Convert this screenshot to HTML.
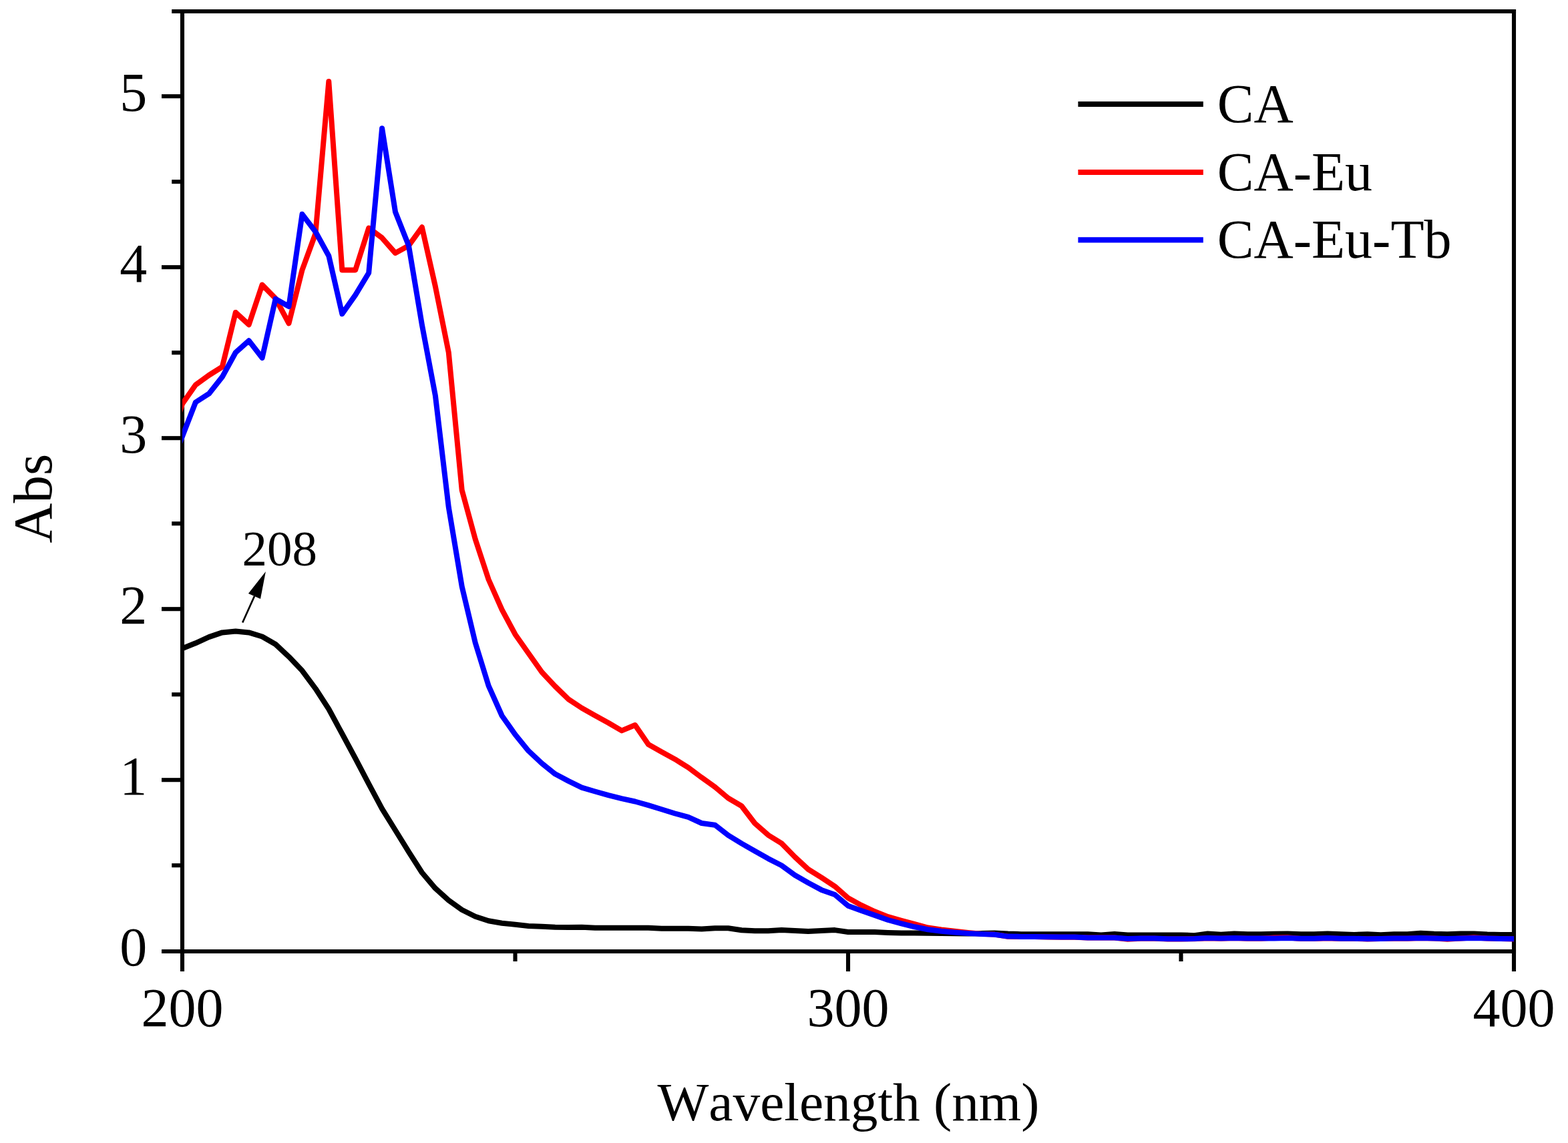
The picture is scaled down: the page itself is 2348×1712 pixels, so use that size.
<!DOCTYPE html>
<html lang="en">
<head>
<meta charset="utf-8">
<title>UV-Vis absorption spectra: CA, CA-Eu, CA-Eu-Tb</title>
<style>
html,body{margin:0;padding:0;background:#fff;}
body{width:2348px;height:1712px;overflow:hidden;}
svg{display:block;}
text{font-family:"Liberation Serif","DejaVu Serif",serif;fill:#000;font-kerning:none;font-variant-ligatures:none;}
.t{font-size:82px;}
.a{font-size:75px;}
.t .xt{font-size:81.4px;}
.t .yt{font-size:83px;}
.ax{stroke:#000;stroke-width:6.1;fill:none;stroke-linecap:butt;}
.c{fill:none;stroke-width:8.0;stroke-linejoin:round;stroke-linecap:butt;}
.lg{fill:none;stroke-width:8.2;stroke-linecap:butt;}
</style>
</head>
<body>
<svg width="2348" height="1712" viewBox="0 0 2348 1712">
<rect x="0" y="0" width="2348" height="1712" fill="#ffffff"/>
<g class="ax">
<line x1="273.0" y1="13.95" x2="273.0" y2="1455"/>
<line x1="2267.0" y1="13.95" x2="2267.0" y2="1455"/>
<line x1="257.2" y1="17.0" x2="2270.05" y2="17.0"/>
<line x1="242" y1="1425.0" x2="2270.05" y2="1425.0"/>
<line x1="242" y1="1168.2" x2="273.0" y2="1168.2"/>
<line x1="242" y1="912.2" x2="273.0" y2="912.2"/>
<line x1="242" y1="656.2" x2="273.0" y2="656.2"/>
<line x1="242" y1="400.2" x2="273.0" y2="400.2"/>
<line x1="242" y1="144.2" x2="273.0" y2="144.2"/>
<line x1="257.2" y1="1296.2" x2="273.0" y2="1296.2"/>
<line x1="257.2" y1="1040.2" x2="273.0" y2="1040.2"/>
<line x1="257.2" y1="784.2" x2="273.0" y2="784.2"/>
<line x1="257.2" y1="528.2" x2="273.0" y2="528.2"/>
<line x1="257.2" y1="272.2" x2="273.0" y2="272.2"/>
<line x1="1270.0" y1="1425.0" x2="1270.0" y2="1455"/>
<line x1="771.5" y1="1425.0" x2="771.5" y2="1440"/>
<line x1="1768.5" y1="1425.0" x2="1768.5" y2="1440"/>
</g>
<g class="t">
<text x="220.2" y="1445.9" text-anchor="end">0</text>
<text x="220.2" y="1189.9" text-anchor="end">1</text>
<text x="220.2" y="933.9" text-anchor="end">2</text>
<text x="220.2" y="677.9" text-anchor="end">3</text>
<text x="220.2" y="421.9" text-anchor="end">4</text>
<text x="220.2" y="165.9" text-anchor="end">5</text>
<text x="273.0" y="1537" text-anchor="middle">200</text>
<text x="1270.0" y="1537" text-anchor="middle">300</text>
<text x="2267.0" y="1537" text-anchor="middle">400</text>
<text class="xt" x="1270.4" y="1678" text-anchor="middle">Wavelength (nm)</text>
<text class="yt" transform="translate(77 746.6) rotate(-90)" text-anchor="middle">Abs</text>
</g>
<clipPath id="plot"><rect x="273.0" y="17.0" width="1995.0" height="1408.0"/></clipPath>
<g clip-path="url(#plot)">
<polyline class="c" stroke="#000000" points="253.1,980.0 273.0,971.2 292.9,963.3 312.9,954.1 332.8,947.4 352.8,945.6 372.7,947.4 392.6,953.5 412.6,965.0 432.5,983.6 452.5,1004.6 472.4,1031.3 492.3,1062.0 512.3,1099.0 532.2,1136.0 552.2,1174.2 572.1,1211.3 592.0,1243.5 612.0,1275.8 631.9,1307.0 651.9,1330.6 671.8,1348.4 691.7,1362.7 711.7,1372.8 731.6,1379.3 751.6,1382.8 771.5,1384.8 791.4,1386.9 811.4,1387.7 831.3,1388.7 851.3,1388.9 871.2,1388.7 891.1,1389.7 911.1,1389.7 931.0,1389.7 951.0,1389.7 970.9,1389.7 990.8,1390.7 1010.8,1390.7 1030.7,1390.7 1050.7,1391.5 1070.6,1390.3 1090.5,1390.3 1110.5,1393.3 1130.4,1394.2 1150.4,1394.2 1170.3,1393.1 1190.2,1394.0 1210.2,1394.9 1230.1,1394.0 1250.1,1393.1 1270.0,1396.0 1289.9,1396.0 1309.9,1396.0 1329.8,1396.9 1349.8,1397.6 1369.7,1397.5 1389.6,1397.8 1409.6,1398.0 1429.5,1398.2 1449.5,1398.4 1469.4,1398.0 1489.3,1397.4 1509.3,1398.6 1529.2,1399.2 1549.2,1399.3 1569.1,1399.3 1589.0,1399.3 1609.0,1399.3 1628.9,1399.3 1648.9,1400.4 1668.8,1399.1 1688.7,1400.4 1708.7,1400.4 1728.6,1400.4 1748.6,1400.4 1768.5,1400.4 1788.4,1401.2 1808.4,1398.5 1828.3,1399.7 1848.3,1398.5 1868.2,1399.3 1888.1,1399.3 1908.1,1398.8 1928.0,1398.5 1948.0,1399.3 1967.9,1399.3 1987.8,1398.5 2007.8,1399.3 2027.7,1399.9 2047.7,1399.3 2067.6,1400.2 2087.5,1399.3 2107.5,1399.3 2127.4,1397.8 2147.4,1398.8 2167.3,1399.3 2187.2,1398.6 2207.2,1398.5 2227.1,1399.6 2247.1,1399.9 2267.0,1399.9"/>
<polyline class="c" stroke="#ff0000" points="253.1,667.0 273.0,605.0 292.9,576.5 312.9,562.0 332.8,549.5 352.8,468.0 372.7,486.3 392.6,426.6 412.6,447.0 432.5,484.3 452.5,404.3 472.4,350.0 492.3,122.0 512.3,404.4 532.2,404.4 552.2,341.5 572.1,356.3 592.0,379.0 612.0,367.9 631.9,340.3 651.9,429.0 671.8,528.0 691.7,734.1 711.7,807.5 731.6,868.0 751.6,913.1 771.5,950.2 791.4,978.5 811.4,1006.8 831.3,1028.0 851.3,1047.3 871.2,1060.5 891.1,1071.8 911.1,1082.7 931.0,1094.4 951.0,1086.0 970.9,1115.0 990.8,1126.3 1010.8,1137.2 1030.7,1149.6 1050.7,1164.6 1070.6,1178.8 1090.5,1195.5 1110.5,1207.2 1130.4,1233.3 1150.4,1250.8 1170.3,1263.1 1190.2,1283.5 1210.2,1302.0 1230.1,1314.4 1250.1,1327.6 1270.0,1345.0 1289.9,1355.9 1309.9,1365.3 1329.8,1373.1 1349.8,1378.9 1369.7,1384.2 1389.6,1389.5 1409.6,1392.5 1429.5,1394.8 1449.5,1396.9 1469.4,1398.7 1489.3,1399.6 1509.3,1402.8 1529.2,1403.1 1549.2,1403.1 1569.1,1403.4 1589.0,1403.7 1609.0,1403.7 1628.9,1404.6 1648.9,1404.6 1668.8,1404.6 1688.7,1406.8 1708.7,1405.8 1728.6,1405.8 1748.6,1406.5 1768.5,1406.5 1788.4,1406.2 1808.4,1405.3 1828.3,1405.7 1848.3,1405.1 1868.2,1405.8 1888.1,1405.8 1908.1,1404.6 1928.0,1404.2 1948.0,1405.9 1967.9,1405.9 1987.8,1405.3 2007.8,1405.9 2027.7,1405.9 2047.7,1406.5 2067.6,1406.1 2087.5,1405.8 2107.5,1405.8 2127.4,1405.1 2147.4,1405.6 2167.3,1406.7 2187.2,1405.6 2207.2,1404.2 2227.1,1405.6 2247.1,1406.1 2267.0,1406.5"/>
<polyline class="c" stroke="#0000ff" points="253.1,705.0 273.0,653.7 292.9,602.5 312.9,589.7 332.8,564.6 352.8,528.0 372.7,510.3 392.6,536.0 412.6,447.7 432.5,459.0 452.5,320.8 472.4,347.0 492.3,383.2 512.3,470.1 532.2,441.9 552.2,408.7 572.1,192.2 592.0,317.5 612.0,368.0 631.9,486.5 651.9,592.5 671.8,759.7 691.7,878.5 711.7,962.6 731.6,1027.1 751.6,1072.0 771.5,1100.2 791.4,1124.7 811.4,1143.4 831.3,1159.3 851.3,1169.9 871.2,1179.6 891.1,1185.5 911.1,1191.1 931.0,1196.1 951.0,1200.5 970.9,1206.2 990.8,1212.3 1010.8,1218.5 1030.7,1223.8 1050.7,1233.0 1070.6,1235.7 1090.5,1251.2 1110.5,1263.4 1130.4,1274.8 1150.4,1286.1 1170.3,1296.2 1190.2,1310.8 1210.2,1322.3 1230.1,1332.9 1250.1,1340.0 1270.0,1356.8 1289.9,1363.9 1309.9,1370.9 1329.8,1378.0 1349.8,1383.3 1369.7,1388.3 1389.6,1392.2 1409.6,1394.8 1429.5,1396.6 1449.5,1398.0 1469.4,1398.9 1489.3,1399.8 1509.3,1402.6 1529.2,1402.9 1549.2,1402.9 1569.1,1403.2 1589.0,1403.5 1609.0,1403.5 1628.9,1404.4 1648.9,1404.4 1668.8,1404.4 1688.7,1405.9 1708.7,1405.6 1728.6,1405.6 1748.6,1406.3 1768.5,1406.3 1788.4,1406.0 1808.4,1405.1 1828.3,1405.5 1848.3,1404.9 1868.2,1405.6 1888.1,1405.6 1908.1,1405.4 1928.0,1404.9 1948.0,1405.7 1967.9,1405.7 1987.8,1405.1 2007.8,1405.7 2027.7,1405.7 2047.7,1406.3 2067.6,1405.9 2087.5,1405.6 2107.5,1405.6 2127.4,1404.9 2147.4,1405.4 2167.3,1405.9 2187.2,1405.4 2207.2,1404.9 2227.1,1405.4 2247.1,1405.9 2267.0,1406.3"/>
</g>
<g class="lg">
<line x1="1614.4" y1="156" x2="1801.8" y2="156" stroke="#000000"/>
<line x1="1614.4" y1="258" x2="1801.8" y2="258" stroke="#ff0000"/>
<line x1="1614.4" y1="359.3" x2="1801.8" y2="359.3" stroke="#0000ff"/>
</g>
<g class="t">
<text x="1822.8" y="182.7">CA</text>
<text x="1822.8" y="284.8">CA-Eu</text>
<text x="1822.8" y="386.3">CA-Eu-Tb</text>
</g>
<text class="a" x="362.6" y="847">208</text>
<line x1="363.2" y1="932.5" x2="381.0" y2="893.0" stroke="#000" stroke-width="2.7"/>
<polygon points="397.9,856.0 371.9,888.9 390.0,897.0" fill="#000"/>
</svg>
</body>
</html>
